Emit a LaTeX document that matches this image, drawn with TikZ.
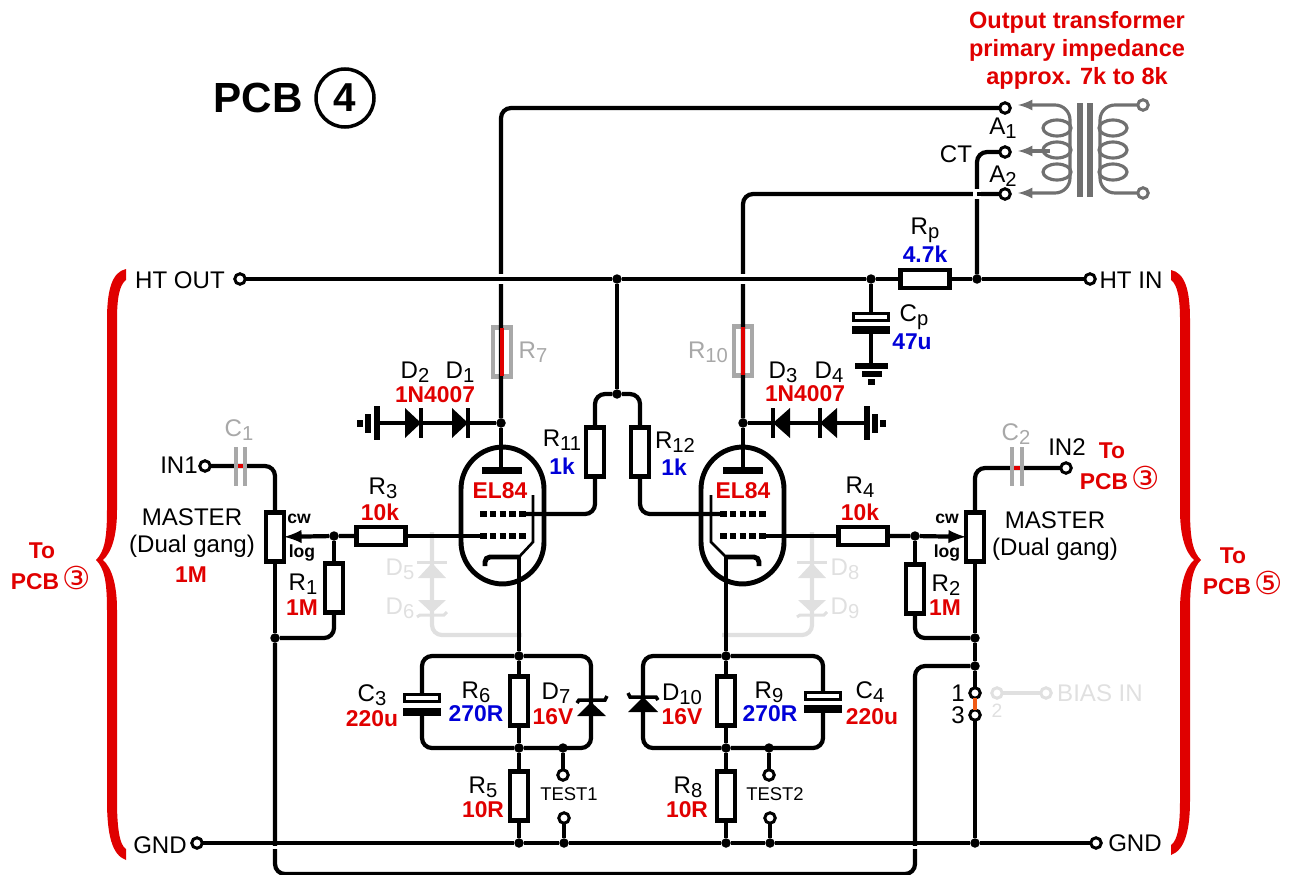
\documentclass[tikz,border=0pt]{standalone}
\usepackage{fontspec}
\setmainfont{Liberation Sans}
\newfontfamily\symfont{DejaVu Sans}
\usepackage{tikz}
\usetikzlibrary{arrows,shapes,positioning,calc}
\usepackage{xcolor}
\definecolor{valred}{HTML}{E00000}
\definecolor{valblue}{HTML}{0000D8}
\definecolor{offgray}{HTML}{A8A8A8}
\definecolor{faint}{HTML}{E0E0E0}
\definecolor{coilgray}{HTML}{707070}
\definecolor{linkorange}{HTML}{F05A14}
\newcommand{\sbn}[1]{\raisebox{-0.3ex}{\fontsize{11.5}{12}\selectfont #1}}
\newcommand{\ringd}[1]{{\symfont\mdseries\fontsize{18}{20}\selectfont #1}}

\begin{document}
\begin{tikzpicture}[
    x=0.02cm, y=-0.02cm,
    every node/.style={inner sep=0pt, outer sep=0pt},
    wire/.style={draw, line width=2.4pt, rounded corners=2mm},
    thinw/.style={draw, line width=1.5pt},
    ghost/.style={draw=faint, line width=2.4pt, rounded corners=2mm},
    coil/.style={draw=coilgray, line width=1.8pt},
    vres/.style={draw, fill=white, line width=2.4pt, rectangle, minimum width=3.6mm, minimum height=9.8mm},
    hres/.style={draw, fill=white, line width=2.4pt, rectangle, minimum width=9.8mm, minimum height=3.6mm},
    offres/.style={draw=offgray, line width=2.4pt, rectangle, minimum width=3.6mm, minimum height=9.8mm},
    term/.style={draw, fill=white, circle, line width=1.7pt, minimum size=2.1mm},
    termg/.style={term, draw=coilgray},
    termf/.style={term, draw=faint},
    dotj/.style={fill=black, circle, minimum size=1.9mm},
    whitecap/.style={draw, fill=white, line width=1.6pt, rectangle, minimum width=7mm, minimum height=1.3mm},
    blackcap/.style={fill=black, rectangle, minimum width=7.6mm, minimum height=1.6mm},
    lbl/.style={font=\fontsize{13.7}{15.5}\selectfont},
    valr/.style={font=\fontsize{13}{15}\selectfont\bfseries, text=valred},
    valb/.style={font=\fontsize{13}{15}\selectfont\bfseries, text=valblue},
    offl/.style={font=\fontsize{13.7}{15}\selectfont, text=offgray},
    fainl/.style={font=\fontsize{13.7}{15}\selectfont, text=faint},
    small/.style={font=\fontsize{10}{12}\selectfont\bfseries},
    tubebox/.style={draw, rectangle, line width=2.8pt, rounded corners=8.4mm, minimum width=16.6mm, minimum height=27.4mm},
    griddash/.style={draw, line width=3.8pt, dash pattern=on 3.8pt off 1.75pt}
]
\useasboundingbox (0,0) rectangle (1294,875);

% title and notes
\node[font=\fontsize{24}{28}\selectfont\bfseries] (title) at (258,98) {PCB};
\node[draw, circle, line width=2pt, minimum size=11.6mm, font=\fontsize{23}{26}\selectfont\bfseries] (pcbnum) at (345,98) {4};
\node[valr, align=center, font=\fontsize{13.4}{15.9}\selectfont\bfseries] (otnote) at (1077,50)
    {Output transformer\\primary impedance\\approx. 7k to 8k};

% braces
\fill[valred] (126,269) .. controls (112,272) and (107,290) .. (107,320) -- (107,510)
    .. controls (107,540) and (104,552) .. (96,560) .. controls (104,568) and (107,580) .. (107,610)
    -- (107,800) .. controls (107,835) and (112,855) .. (126,860) -- (126,849)
    .. controls (119,845) and (117,825) .. (117,800) -- (117,610) .. controls (117,585) and (112,568) .. (103,560)
    .. controls (112,552) and (117,535) .. (117,510) -- (117,320) .. controls (117,300) and (119,285) .. (126,280) -- cycle;
\fill[valred] (1171,270) .. controls (1185,273) and (1190,290) .. (1190,320) -- (1190,510)
    .. controls (1190,540) and (1193,552) .. (1201,560) .. controls (1193,568) and (1190,580) .. (1190,610)
    -- (1190,800) .. controls (1190,830) and (1185,850) .. (1171,855) -- (1171,845)
    .. controls (1178,840) and (1180,825) .. (1180,800) -- (1180,610) .. controls (1180,585) and (1185,568) .. (1194,560)
    .. controls (1185,552) and (1180,535) .. (1180,510) -- (1180,320) .. controls (1180,300) and (1178,285) .. (1171,280) -- cycle;
\node[valr] (toL) at (42,551) {To};
\node[valr] (pcbL) at (51,578) {PCB\,\ringd{③}};
\node[valr] (toR) at (1233,556) {To};
\node[valr] (pcbR) at (1243,583) {PCB\,\ringd{⑤}};
\node[valr] (toI) at (1112,451) {To};
\node[valr] (pcbI) at (1120,478) {PCB\,\ringd{③}};

% terminals
\node[term] (htout) at (240,279) {};
\node[term] (htin) at (1090,279) {};
\node[term] (gndL) at (197,843) {};
\node[term] (gndR) at (1096,843) {};
\node[term] (tA1) at (1005,108) {};
\node[term] (tCT) at (1005,152) {};
\node[term] (tA2) at (1005,194) {};
\node[term] (in1) at (205,466) {};
\node[term] (in2) at (1066,468) {};
\node[term] (tp1a) at (563,775) {};
\node[term] (tp1b) at (564,818) {};
\node[term] (tp2a) at (769,775) {};
\node[term] (tp2b) at (770,818) {};
\node[term] (lk1) at (975,693) {};
\node[term] (lk3) at (975,715) {};
\node[termf] (lk2) at (997,693) {};
\node[termf] (bias) at (1046,693) {};
\node[termg] (sec1) at (1143,105) {};
\node[termg] (sec2) at (1143,193) {};

% resistors, pots
\node[hres] (Rp) at (925,279) {};
\node[offres] (R7) at (502,352) {};
\node[offres] (R10) at (743,351) {};
\node[vres] (R11) at (595,452) {};
\node[vres] (R12) at (640,452) {};
\node[hres] (R3) at (381,536) {};
\node[hres] (R4) at (863,536) {};
\node[vres] (pot1) at (275,537) {};
\node[vres] (pot2) at (975,537) {};
\node[vres] (R1) at (334,588) {};
\node[vres] (R2) at (915,589) {};
\node[vres] (R6) at (519,701) {};
\node[vres] (R9) at (726,701) {};
\node[vres] (R5) at (519,796) {};
\node[vres] (R8) at (726,796) {};
\node[whitecap] (C3a) at (422,698) {};
\node[blackcap] (C3b) at (422,712) {};
\node[whitecap] (C4a) at (823,696) {};
\node[blackcap] (C4b) at (823,709) {};
\node[whitecap] (Cpa) at (871,317) {};
\node[blackcap] (Cpb) at (871,330) {};

% junctions
\node[dotj] (jcp) at (871,279) {};
\node[dotj] (jct) at (977,279) {};
\node[dotj] (jsg) at (617,279) {};
\node[dotj] (jsgb) at (617,394) {};
\node[dotj] (ja1) at (501,423) {};
\node[dotj] (ja2) at (743,423) {};
\node[dotj] (jw1) at (334,536) {};
\node[dotj] (jw2) at (915,536) {};
\node[dotj] (jg1) at (275,638) {};
\node[dotj] (jg2) at (975,638) {};
\node[dotj] (jg3) at (975,666) {};
\node[dotj] (jt1) at (519,656) {};
\node[dotj] (jb1) at (519,748) {};
\node[dotj] (jc1) at (563,748) {};
\node[dotj] (jt2) at (726,656) {};
\node[dotj] (jb2) at (726,748) {};
\node[dotj] (jc2) at (769,748) {};
\node[dotj] (jr1) at (519,843) {};
\node[dotj] (jr2) at (564,843) {};
\node[dotj] (jr3) at (726,843) {};
\node[dotj] (jr4) at (770,843) {};
\node[dotj] (jr5) at (975,843) {};

% tube points
\coordinate (plate1) at (501,470);
\coordinate (plate2) at (743,470);
\coordinate (g2a) at (525,514);
\coordinate (g2b) at (720,514);
\coordinate (g1a) at (480,536);
\coordinate (g1b) at (765,536);
\coordinate (cath1) at (519,557);
\coordinate (cath2) at (726,557);
\coordinate (gnda) at (377,423);
\coordinate (gndb) at (867,423);
\coordinate (gndc) at (871,366);
\coordinate (lowbus) at (915,874);
\coordinate (z7) at (591,707);
\coordinate (z10) at (643,704);
\coordinate (c1l) at (234,466);
\coordinate (c1r) at (247,466);
\coordinate (c2l) at (1010,468);
\coordinate (c2r) at (1024,468);
\coordinate (ctx) at (977,194);

% faint protection diodes
\draw[ghost] (432,532) |- (522,635);
\draw[ghost] (812,532) |- (722,635);
\foreach \x in {432,812}{
    \fill[faint] (\x,563) -- (\x-14,578) -- (\x+14,578) -- cycle;
    \fill[faint] (\x,613) -- (\x-14,600) -- (\x+14,600) -- cycle;
    \draw[faint, line width=1.7pt] (\x-15,562) -- (\x+15,562);
    \draw[faint, line width=1.7pt] (\x-15,617) -- (\x-12,615) -- (\x+12,615) -- (\x+15,612);
}
\draw[ghost] (lk2) -- (bias);

% supply
\draw[wire] (ja1) |- (tA1);
\draw[wire] (ja2) |- (tA2);
\draw[wire] (ja1) -- (plate1);
\draw[wire] (ja2) -- (plate2);
\draw[wire] (jct) |- (tCT);
\foreach \x in {501,743} \fill[white] (\x-4,274) rectangle (\x+4,284);
\fill[white] (973,189) rectangle (981,199);
\draw[wire] (ctx) -- (tA2);
\draw[wire] (htout) -- (jsg) -- (jcp) -- (Rp);
\draw[wire] (Rp) -- (jct) -- (htin);
\draw[wire] (jsg) -- (jsgb);
\draw[wire] (jcp) -- (Cpa);
\draw[wire] (Cpb) -- (gndc);
\draw[wire] (ja1) -- (gnda);
\draw[wire] (ja2) -- (gndb);
\draw[valred, line width=2.4pt] (R7.north) -- (R7.south);
\draw[valred, line width=2.4pt] (R10.north) -- (R10.south);

% screen grids
\draw[wire] (jsgb) -| (R11);
\draw[wire] (jsgb) -| (R12);
\draw[wire] (R11) |- (g2a);
\draw[wire] (R12) |- (g2b);

% inputs
\draw[wire] (in1) -| (pot1);
\draw[wire] (in2) -| (pot2);
\draw[valred, line width=2.4pt] (c1l) -- (c1r);
\draw[valred, line width=2.4pt] (c2l) -- (c2r);
\foreach \x in {236,245,1012,1022}{
    \draw[offgray, line width=2.4pt] (\x,447) -- (\x,486);
}
\draw[wire] (R3) -- (g1a);
\draw[wire] (R4) -- (g1b);
\draw[wire,-latex] (R3) -- (jw1) -- (pot1);
\draw[wire,-latex] (R4) -- (jw2) -- (pot2);
\draw[wire] (jw1) -- (R1);
\draw[wire] (jw2) -- (R2);
\draw[wire] (R1) |- (jg1);
\draw[wire] (R2) |- (jg2);
\draw[wire] (pot1) -- (jg1);
\draw[wire] (pot2) -- (jg2) -- (jg3) -- (lk1);
\draw[wire] (lk3) -- (jr5);
\draw[linkorange, line width=2.4pt] (lk1) -- (lk3);
\draw[wire] (jg1) |- (lowbus) |- (jg3);

% cathode networks
\draw[wire] (cath1) -- (jt1);
\draw[wire] (cath2) -- (jt2);
\draw[wire] (jt1) -- (R6);
\draw[wire] (R6) -- (jb1);
\draw[wire] (jb1) -- (R5);
\draw[wire] (R5) -- (jr1);
\draw[wire] (jt2) -- (R9);
\draw[wire] (R9) -- (jb2);
\draw[wire] (jb2) -- (R8);
\draw[wire] (R8) -- (jr3);
\draw[wire] (C3a) |- (jt1);
\draw[wire] (C3b) |- (jb1);
\draw[wire] (C4a) |- (jt2);
\draw[wire] (C4b) |- (jb2);
\draw[wire] (jt1) -| (z7) |- (jb1);
\draw[wire] (jt2) -| (z10) |- (jb2);
\draw[wire] (jc1) -- (tp1a);
\draw[wire] (tp1b) -- (jr2);
\draw[wire] (jc2) -- (tp2a);
\draw[wire] (tp2b) -- (jr4);
\foreach \x in {275,915} \fill[white] (\x-4,846) rectangle (\x+4,849);
\draw[wire] (gndL) -- (jr1) -- (jr2) -- (jr3) -- (jr4) -- (jr5) -- (gndR);

% tubes
\node[tubebox] (tube1) at (502.5,515.5) {};
\node[tubebox] (tube2) at (742.5,515.5) {};
\foreach \x in {482,723} \fill (\x,467) rectangle (\x+40,474);
\foreach \x in {480,720}{
    \draw[griddash] (\x,514) -- (\x+46,514);
    \draw[griddash] (\x,536) -- (\x+46,536);
}
\draw[thinw] (533,495) -- (533,542) -- (519,557);
\draw[thinw] (711,495) -- (711,542) -- (726,557);
\draw[line width=2.8pt, rounded corners=1mm] (485,566) |- (cath1);
\draw[line width=2.8pt, rounded corners=1mm] (759,566) |- (cath2);

% diodes
\foreach \x in {421,468}{
    \fill (\x,423) -- (\x-16,408) -- (\x-16,438) -- cycle;
    \draw[line width=2.4pt] (\x,408) -- (\x,438);
}
\foreach \x in {773,820}{
    \fill (\x,423) -- (\x+17,408) -- (\x+17,438) -- cycle;
    \draw[line width=2.4pt] (\x,408) -- (\x,438);
}
\fill (591,702) -- (577,716) -- (606,716) -- cycle;
\draw[line width=2pt] (577,703) -- (579,700) -- (605,700) -- (607,696);
\fill (643,697) -- (628,712) -- (658,712) -- cycle;
\draw[line width=2pt] (628,693) -- (630,697) -- (656,697) -- (658,700);

% grounds
\draw[line width=3pt] (gnda) ++(0,-17) -- ++(0,34);
\draw[line width=3pt] (368,414) -- (368,433);
\draw[line width=3pt] (360,420) -- (360,427);
\draw[line width=3pt] (gndb) ++(0,-17) -- ++(0,34);
\draw[line width=3pt] (875,414) -- (875,433);
\draw[line width=3pt] (883,420) -- (883,427);
\draw[line width=3pt] (855,366) -- (888,366);
\draw[line width=3pt] (862,374) -- (882,374);
\draw[line width=3pt] (868,382) -- (875,382);

% output transformer
\draw[coil, latex-latex, rounded corners=3mm] (1018,105) -- (1070,105) -- (1070,193) -- (1018,193);
\draw[coil, latex-] (1018,151) -- (1050,151);
\draw[coil, rounded corners=3mm] (sec1) -- (1100,105) -- (1100,193) -- (sec2);
\foreach \y in {128,150,172}{
    \draw[coil] (1057,\y) ellipse (14 and 8);
    \draw[coil] (1113,\y) ellipse (14 and 8);
}
\fill[coilgray] (1077,103) rectangle (1083,197);
\fill[coilgray] (1087,103) rectangle (1093,197);

% labels
\node[lbl] (lHTo) at (180,280) {HT OUT};
\node[lbl] (lHTi) at (1131,280) {HT IN};
\node[lbl] (lGNDa) at (160,845) {GND};
\node[lbl] (lGNDb) at (1135,843) {GND};
\node[lbl] (lA1) at (1003,128) {A\sbn{1}};
\node[lbl] (lA2) at (1003,176) {A\sbn{2}};
\node[lbl] (lCT) at (956,154) {CT};
\node[lbl] (lRp) at (925,230) {R\sbn{p}};
\node[valb] (vRp) at (925,254) {4.7k};
\node[lbl] (lCp) at (914,317) {C\sbn{p}};
\node[valb] (vCp) at (912,342) {47u};
\node[offl] (lR7) at (533,352) {R\sbn{7}};
\node[offl] (lR10) at (708,352) {R\sbn{10}};
\node[lbl] (lD2) at (415,372) {D\sbn{2}};
\node[lbl] (lD1) at (460,372) {D\sbn{1}};
\node[valr] (v14a) at (435,395) {1N4007};
\node[lbl] (lD3) at (783,372) {D\sbn{3}};
\node[lbl] (lD4) at (829,372) {D\sbn{4}};
\node[valr] (v14b) at (805,394) {1N4007};
\node[lbl] (lR11) at (562,440) {R\sbn{11}};
\node[valb] (vR11) at (562,466) {1k};
\node[lbl] (lR12) at (675,442) {R\sbn{12}};
\node[valb] (vR12) at (674,467) {1k};
\node[valr] (lel1) at (500,491) {EL84};
\node[valr] (lel2) at (743,491) {EL84};
\node[lbl] (lR3) at (383,488) {R\sbn{3}};
\node[valr] (vR3) at (380,512) {10k};
\node[lbl] (lR4) at (860,487) {R\sbn{4}};
\node[valr] (vR4) at (860,512) {10k};
\node[offl] (lC1) at (239,430) {C\sbn{1}};
\node[offl] (lC2) at (1016,434) {C\sbn{2}};
\node[lbl] (lIN1) at (179,465) {IN1};
\node[lbl] (lIN2) at (1067,447) {IN2};
\node[lbl, align=center] (lM1) at (192,533) {MASTER\\(Dual gang)};
\node[valr] (vM1) at (191,575) {1M};
\node[lbl, align=center] (lM2) at (1055,536) {MASTER\\(Dual gang)};
\node[small] (cw1) at (299,519) {cw};
\node[small] (log1) at (302,553) {log};
\node[small] (cw2) at (947,519) {cw};
\node[small] (log2) at (947,553) {log};
\node[lbl] (lR1) at (303,584) {R\sbn{1}};
\node[valr] (vR1) at (302,608) {1M};
\node[lbl] (lR2) at (946,585) {R\sbn{2}};
\node[valr] (vR2) at (945,608) {1M};
\node[fainl] (lD5) at (400,569) {D\sbn{5}};
\node[fainl] (lD6) at (400,608) {D\sbn{6}};
\node[fainl] (lD8) at (845,569) {D\sbn{8}};
\node[fainl] (lD9) at (845,608) {D\sbn{9}};
\node[lbl] (lC3) at (372,695) {C\sbn{3}};
\node[valr] (vC3) at (372,719) {220u};
\node[lbl] (lR6) at (476,692) {R\sbn{6}};
\node[valb] (vR6) at (476,714) {270R};
\node[lbl] (lD7) at (556,693) {D\sbn{7}};
\node[valr] (vD7) at (553,717) {16V};
\node[lbl] (lR5) at (483,787) {R\sbn{5}};
\node[valr] (vR5) at (483,810) {10R};
\node[lbl] (lD10) at (682,694) {D\sbn{10}};
\node[valr] (vD10) at (682,717) {16V};
\node[lbl] (lR9) at (769,692) {R\sbn{9}};
\node[valb] (vR9) at (770,714) {270R};
\node[lbl] (lC4) at (870,692) {C\sbn{4}};
\node[valr] (vC4) at (872,717) {220u};
\node[lbl] (lR8) at (688,787) {R\sbn{8}};
\node[valr] (vR8) at (687,810) {10R};
\node[font=\fontsize{10.5}{12}\selectfont] (lT1) at (569,794) {TEST1};
\node[font=\fontsize{10.5}{12}\selectfont] (lT2) at (775,794) {TEST2};
\node[lbl] (l1) at (958,693) {1};
\node[lbl] (l3) at (958,715) {3};
\node[fainl, font=\fontsize{11}{12}\selectfont] (l2) at (997,711) {2};
\node[fainl] (lBI) at (1100,693) {BIAS IN};

\end{tikzpicture}
\end{document}
